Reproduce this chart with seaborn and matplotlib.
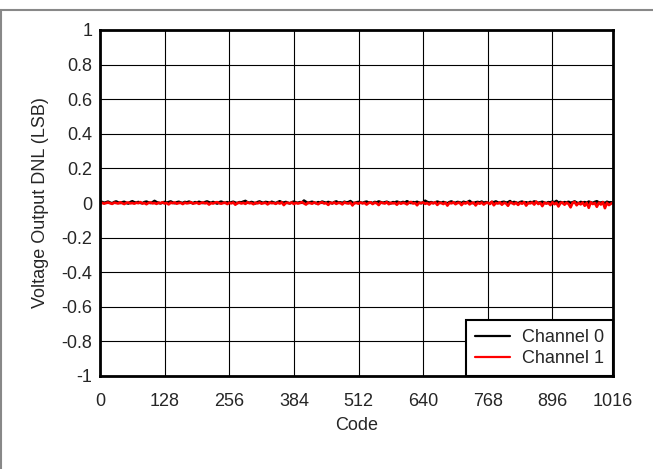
import matplotlib
matplotlib.use("Agg")
import matplotlib.pyplot as plt
from matplotlib.lines import Line2D
import pandas as pd
import seaborn as sns

# DNL, one value every 4 codes, in milli-LSB
codes = list(range(0, 1017, 4))
ch0_mlsb = [
    3, 6, 1, 4, 8, 2, -2, 5, 9, 3, 0, 4, 7, 1, -3, 5,
    10, 4, 2, 6, 1, -1, 5, 8, 3, 0, 4, 12, 5, 1, -2, 3,
    6, 2, 5, 9, 3, -1, 4, 7, 2, 0, 6, 3, 8, 4, -2, 5,
    2, 7, 3, 0, 5, 9, 4, 1, 6, 2, -3, 4, 8, 3, 1, 5,
    0, 4, 7, 2, -1, 5, 3, 8, 12, 4, 1, 6, 2, -2, 5, 9,
    3, 1, 6, 4, 0, 7, 3, -1, 5, 10, 4, 2, 6, 1, -2, 4,
    8, 3, 1, 5, 2, 14, 6, 0, 4, 7, 3, -1, 5, 2, 8, 4,
    1, 6, 3, -2, 5, 9, 2, 4, 0, 7, 3, 5, 11, 2, -1, 4,
    6, 3, 0, 5, 8, 2, 4, -1, 6, 3, 9, 5, 1, 4, 7, 2,
    -2, 5, 3, 8, 4, 1, 6, 2, 10, 4, 0, 5, 3, 7, 2, -1,
    4, 13, 6, 2, 5, 0, 3, 8, 4, 1, 6, 2, -2, 5, 9, 3,
    1, 6, 4, 0, 7, 3, 5, 12, 2, -1, 4, 6, 3, 8, 1, 5,
    2, -3, 6, 4, 9, 3, 0, 5, 7, 2, 4, 11, 1, 6, 3, -2,
    5, 8, 2, 4, 0, 6, 3, 9, 5, 1, 4, 7, 2, -1, 5, 3,
    8, 4, 12, 2, 6, 0, 5, 3, 7, 1, 4, 9, 2, -2, 6, 3,
    5, 1, 8, 4, 0, 6, 10, 3, 2, 5, -1, 7, 3, 4, 1,
]
ch1_mlsb = [
    -2, 1, -4, 0, 3, -1, -5, 2, 0, -3, 4, -1, -6, 1, 3, -2,
    0, -4, 2, -1, 5, -3, 0, -7, 1, 3, -2, 0, -5, 2, -1, 4,
    -3, 0, -8, 2, -1, 3, -4, 0, 1, -6, 2, -2, 0, 4, -3, -1,
    2, -5, 0, 3, -2, 1, -9, 0, -3, 2, 5, -1, -4, 0, 2, -6,
    1, -2, 3, -10, 0, 2, -3, 1, -5, 4, -1, 0, -7, 2, -2, 3,
    -4, 0, 1, -8, 3, -1, 0, -5, 2, -3, 4, -12, 0, 1, -2, 3,
    -6, 1, -3, 0, 5, -2, -9, 2, 0, -4, 3, -1, -7, 1, 4, -3,
    0, -11, 2, -2, 3, -5, 1, 0, -8, 4, -1, -3, 2, -14, 1, 0,
    -4, 3, -2, 1, -9, 0, 4, -6, 2, -1, -12, 3, 0, -3, 5, -7,
    1, -2, 0, -10, 3, -4, 1, -1, -8, 2, 6, -3, 0, -13, 2, -1,
    3, -5, 0, -9, 2, -2, 4, -11, 1, 0, -6, 3, -15, 1, -2, 4,
    -7, 0, 2, -12, 1, -3, 5, -8, 0, 2, -14, 1, -4, 3, -9, 0,
    2, -6, 7, -13, 0, -3, 4, -10, 1, -2, -16, 3, 0, -7, 2, -11,
    1, -4, 5, -15, 0, -2, 3, -9, 8, -6, 1, -18, 2, -3, 0, -12,
    4, -7, 1, -20, 0, 3, -10, 2, -5, -25, 1, 6, -13, 0, -8, 3,
    -16, 1, -28, 4, -6, 0, -22, 2, -9, 5, -30, 1, -12, -4, 2,
]
labels = ["Channel 0", "Channel 1"]
xticks = [0, 128, 256, 384, 512, 640, 768, 896, 1016]
yticks = [-1, -0.8, -0.6, -0.4, -0.2, 0, 0.2, 0.4, 0.6, 0.8, 1]
ytick_labels = ["-1", "-0.8", "-0.6", "-0.4", "-0.2", "0",
                "0.2", "0.4", "0.6", "0.8", "1"]

df = pd.DataFrame({
    "Code": codes * 2,
    "DNL": [v / 1000 for v in ch0_mlsb] + [v / 1000 for v in ch1_mlsb],
    "Channel": [labels[0]] * len(codes) + [labels[1]] * len(codes),
})

sns.set_style("white")
plt.rcParams["font.family"] = ["Liberation Sans", "DejaVu Sans"]
fs = 13

fig = plt.figure(figsize=(6.53, 4.69), dpi=100)
ax = fig.add_axes([100 / 653, 1 - 376 / 469, 513 / 653, 346 / 469])

sns.lineplot(data=df, x="Code", y="DNL", hue="Channel",
             palette=["black", "red"], linewidth=1.9, ax=ax)

ax.set_xlim(0, 1016)
ax.set_ylim(-1, 1)
ax.set_xticks(xticks)
ax.set_yticks(yticks)
ax.set_yticklabels(ytick_labels)
ax.tick_params(axis="x", length=0, pad=12, labelsize=fs)
ax.tick_params(axis="y", length=0, pad=5.5, labelsize=fs)
ax.grid(True, color="black", linewidth=0.8)
for s in ax.spines.values():
    s.set_linewidth(2)
    s.set_color("black")
ax.set_xlabel("Code", fontsize=fs, labelpad=5)
ax.set_ylabel("Voltage Output DNL (LSB)", fontsize=fs, labelpad=9)

leg = ax.legend(loc="lower right", fontsize=fs, frameon=True, fancybox=False,
                borderaxespad=0, handlelength=1.95, handletextpad=0.65,
                borderpad=0.5, labelspacing=0.22)
leg.get_frame().set_edgecolor("black")
leg.get_frame().set_linewidth(1.5)
leg.get_frame().set_alpha(1)
for h in leg.get_lines():
    h.set_linewidth(1.6)

# grey page frame lines
fig.add_artist(Line2D([0, 1], [1 - 10 / 469] * 2, color="#888888", linewidth=1.5))
fig.add_artist(Line2D([1 / 653] * 2, [0, 1 - 10 / 469], color="#888888", linewidth=1.5))

fig.savefig("out.png", dpi=100)
